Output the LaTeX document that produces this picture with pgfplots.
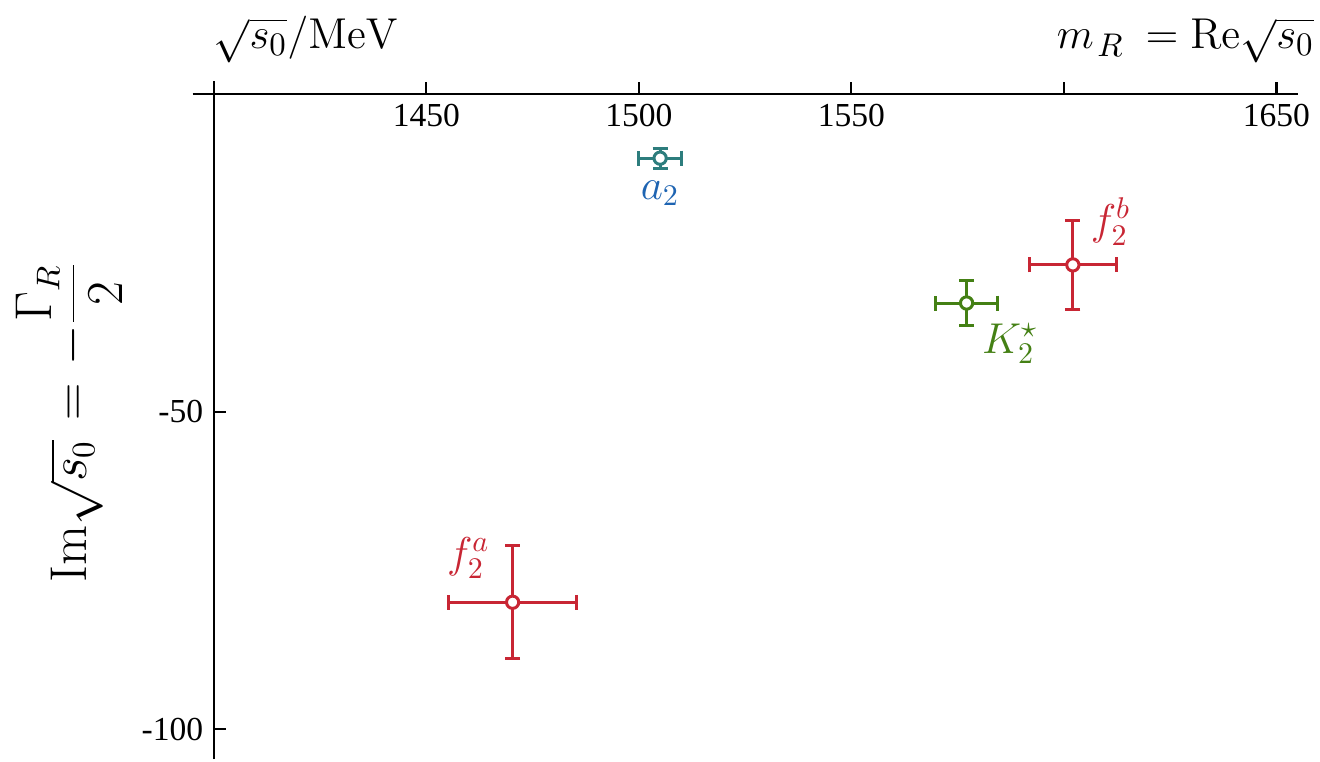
\documentclass[border=0pt]{standalone}
\usepackage[no-math]{fontspec}
\setmainfont{Liberation Serif}
\usepackage{pgfplots}
\pgfplotsset{compat=1.18}

\definecolor{fred}{RGB}{200,38,52}
\definecolor{kgreen}{RGB}{68,128,20}
\definecolor{ateal}{RGB}{45,125,125}
\definecolor{ablue}{RGB}{30,100,178}

\pgfplotsset{
  pole/.style={
    only marks, mark=*, mark size=2.05pt,
    color=#1, line width=1pt,
    mark options={fill=white, draw=#1, line width=1pt},
    error bars/.cd,
      x dir=both, x explicit, y dir=both, y explicit,
      error bar style={line width=1pt, color=#1},
      error mark options={rotate=90, mark size=2.5pt, line width=1pt, color=#1},
  },
}

\begin{document}
\begin{tikzpicture}
\begin{axis}[
  scale only axis,
  width=361.7pt, height=226.2pt,
  xmin=1400, xmax=1655, ymin=-104.7, ymax=2,
  axis x line=middle, axis y line=left,
  axis line style={-, line width=0.7pt},
  xtick={1450,1500,1550,1600,1650},
  xticklabels={1450,1500,1550,,1650},
  ytick={-100,-50},
  yticklabels={-100,-50},
  tick align=inside,
  major tick length=4pt,
  tick style={line width=0.7pt, black},
  ticklabel style={font=\fontsize{11.2}{13}\selectfont},
  clip=false,
]
% f_2 poles
\addplot+[pole=fred] coordinates {
  (1470.3,-80.0) +- (15.0,8.9)
  (1602.1,-26.9) +- (10.3,6.95)
};
% K_2^* pole
\addplot+[pole=kgreen] coordinates {
  (1577.1,-32.9) +- (7.3,3.6)
};
% a_2 pole
\addplot+[pole=ateal] coordinates {
  (1505.0,-10.1) +- (5.1,1.6)
};

\draw[line width=0.7pt] (axis cs:1395,0) -- (axis cs:1400,0);

\begin{scope}[font=\fontsize{14.2}{17}\selectfont]
  \node[text=ablue]  at (axis cs:1505.0,-15.6) {$a_2$};
  \node[text=fred]   at (axis cs:1611.0,-20.1) {$f_2^b$};
  \node[text=fred]   at (axis cs:1459.9,-73.0) {$f_2^a$};
  \node[text=kgreen] at (axis cs:1587.3,-39.3) {$K_2^\star$};
\end{scope}
\begin{scope}[font=\fontsize{15.4}{18}\selectfont, inner sep=0pt]
  \node[anchor=base west] at (axis cs:1399.8,7.1) {$\sqrt{s_0}/\mathrm{MeV}$};
  \node[anchor=base east, overlay] at (axis cs:1659.0,7.1)
    {${m\mkern1.5mu}_R\mkern4mu=\mathrm{Re}\sqrt{s_0}$};
  \node[rotate=90, font=\fontsize{16.2}{20}\selectfont] at (axis cs:1366.0,-51.6)
    {$\mathrm{Im}\sqrt{s_0}\mkern2mu=\mkern1mu-\displaystyle\frac{\Gamma_R}{2}$};
\end{scope}

\path (axis cs:1349.7,14.8) rectangle (axis cs:1659.9,-105.0);
\end{axis}
\end{tikzpicture}
\end{document}
